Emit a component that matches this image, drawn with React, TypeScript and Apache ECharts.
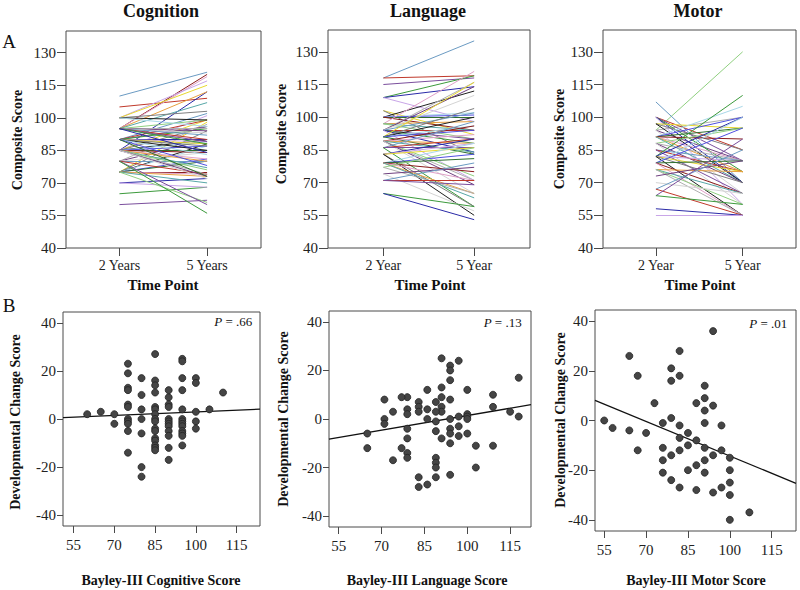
import React, { useEffect, useRef } from "react";
import * as echarts from "echarts";

const FONT = "'Liberation Serif', 'Times New Roman', serif";

// [2-year composite score, developmental change score (5-year minus 2-year)]
const cognitionData: [number, number][] = [
  [110, 11], [105, 4], [60, 2], [65, 3], [70, 2], [70, -2],
  [75, 23], [75, 19], [75, 13], [75, 12], [75, 6], [75, 5], [75, 0], [75, -1], [75, -2], [75, -5], [75, -14],
  [80, 17], [80, 10], [80, 4], [80, 0], [80, -6], [80, -20], [80, -24],
  [85, 27], [85, 16], [85, 14], [85, 11], [85, 5], [85, 4], [85, 2], [85, 0], [85, -1], [85, -4], [85, -5], [85, -8], [85, -9], [85, -11], [85, -12], [85, -13],
  [90, 12], [90, 9], [90, 6], [90, 5], [90, 0], [90, -1], [90, -2], [90, -3], [90, -5], [90, -7], [90, -12], [90, -17],
  [95, 25], [95, 24], [95, 17], [95, 12], [95, 4], [95, 0], [95, -1], [95, -2], [95, -3], [95, -5], [95, -6], [95, -7], [95, -11],
  [100, 17], [100, 15], [100, 3], [100, -1], [100, -4],
];

const languageData: [number, number][] = [
  [118, 17], [118, 1], [115, 3], [109, 10], [109, 5], [109, -11], [103, -11], [103, -20],
  [100, 12], [100, 2], [100, 1], [100, 0], [100, -6],
  [97, 24], [97, 1], [97, -3], [97, -7],
  [94, 22], [94, 20], [94, 16], [94, 8], [94, 0], [94, -4], [94, -6], [94, -10], [94, -23],
  [91, 25], [91, 13], [91, 9], [91, 5], [91, 3], [91, -8],
  [89, 7], [89, 3], [89, -1], [89, -5], [89, -16], [89, -18], [89, -20], [89, -24],
  [86, 12], [86, 4], [86, 0], [86, -27],
  [83, 7], [83, 5], [83, 3], [83, -24], [83, -28],
  [79, 9], [79, 4], [79, 2], [79, -4], [79, -8], [79, -14], [79, -16],
  [77, 9], [77, -12], [74, 3], [74, -17], [71, 8], [71, 0], [71, -2], [65, -6], [65, -12],
];

const motorData: [number, number][] = [
  [94, 36], [94, 6], [94, -14], [94, -29], [107, -37],
  [100, -15], [100, -20], [100, -25], [100, -30], [100, -40],
  [97, -2], [97, -12], [97, -27],
  [91, 14], [91, 9], [91, 4], [91, -1], [91, -11], [91, -16], [91, -21],
  [88, 7], [88, -8], [88, -18], [88, -28],
  [85, -5], [85, -10], [85, -20],
  [82, 28], [82, 18], [82, -2], [82, -7], [82, -12], [82, -27],
  [79, 21], [79, 16], [79, 1], [79, -14], [79, -24],
  [76, -1], [76, -11], [76, -16], [76, -21],
  [73, 7], [70, -5], [67, 18], [67, -12], [64, 26], [64, -4], [58, -3], [55, 0],
];

// regression line end points [score, change]
const cognitionFit: [number, number][] = [[51.1, 0.6], [123.6, 4.1]];
const languageFit: [number, number][] = [[51.6, -8.3], [122.3, 5.9]];
const motorFit: [number, number][] = [[51.7, 8.1], [123.7, -25.3]];

const panelTitles = ["Cognition", "Language", "Motor"];
const timeLabels = [["2 Years", "5 Years"], ["2 Year", "5 Year"], ["2 Year", "5 Year"]];
const bayleyNames = ["Bayley-III Cognitive Score", "Bayley-III Language Score", "Bayley-III Motor Score"];
const pLabels = [".66", ".13", ".01"];
const compositeTicks = [40, 55, 70, 85, 100, 115, 130];
const scoreTicks = [55, 70, 85, 100, 115];
const changeTicks = [-40, -20, 0, 20, 40];

const palette = [
  "#6b9bc3", "#c0392b", "#7b4f9d", "#3c9a3c", "#2a2aa8", "#c9a6e8", "#e8d830", "#808080",
  "#202020", "#a9d8e8", "#5050e0", "#2f6f2f", "#8b1c1c", "#e0a0c8", "#e8a040", "#58a8a8",
  "#90d080", "#b0b0b0", "#704080", "#d4d4d4",
];

const topGrids = [
  { left: 66, top: 31, width: 195, height: 217 },
  { left: 328, top: 30, width: 202, height: 218 },
  { left: 603, top: 30, width: 193, height: 218 },
];
const bottomGrids = [
  { left: 63, top: 312, width: 197, height: 214 },
  { left: 329, top: 311, width: 202, height: 216 },
  { left: 595, top: 310, width: 201, height: 221 },
];
const bottomXRange = [[51.1, 123.6], [51.6, 122.3], [51.7, 123.7]];

const AXIS_COLOR = "#4a4a4a";
const labelStyle = { fontFamily: FONT, fontSize: 15, color: "#222" };

function textEl(text: string, x: number, y: number, size: number, opts: any = {}) {
  return {
    type: "text",
    x,
    y,
    rotation: opts.rotation || 0,
    style: {
      text,
      fontFamily: FONT,
      fontSize: size,
      fontWeight: opts.weight || "normal",
      fill: "#111",
      align: opts.align || "center",
      verticalAlign: "middle",
      textAlign: opts.align || "center",
      textVerticalAlign: "middle",
      rich: opts.rich,
    },
  };
}

export default function App() {
  const ref = useRef<HTMLDivElement>(null);

  useEffect(() => {
    if (!ref.current) return;
    const chart = echarts.init(ref.current, null, { renderer: "svg" });
    const datasets = [cognitionData, languageData, motorData];
    const fits = [cognitionFit, languageFit, motorFit];
    const offsets = [0, 0, 16];

    const grid: any[] = [];
    const xAxis: any[] = [];
    const yAxis: any[] = [];
    const series: any[] = [];

    topGrids.forEach((g, i) => {
      grid.push({ ...g, show: true, borderColor: AXIS_COLOR, borderWidth: 1, containLabel: false });
      xAxis.push({
        type: "value", gridIndex: i, min: 0.39, max: 2.615, position: "bottom",
        axisLine: { show: false, onZero: false }, splitLine: { show: false },
        axisTick: { show: true, length: 8, lineStyle: { color: AXIS_COLOR }, customValues: [1, 2] },
        axisLabel: { ...labelStyle, fontSize: 14, margin: 10, customValues: [1, 2], formatter: (v: number) => (v === 1 ? timeLabels[i][0] : timeLabels[i][1]) },
      });
      yAxis.push({
        type: "value", gridIndex: i, min: 40, max: 140, position: "left",
        axisLine: { show: false, onZero: false }, splitLine: { show: false },
        axisTick: { show: true, length: 9, lineStyle: { color: AXIS_COLOR }, customValues: compositeTicks },
        axisLabel: { ...labelStyle, margin: 10, customValues: compositeTicks },
      });
      series.push({
        type: "lines",
        coordinateSystem: "cartesian2d",
        xAxisIndex: i,
        yAxisIndex: i,
        polyline: false,
        silent: true,
        lineStyle: { width: 1, opacity: 1 },
        data: datasets[i].map(([s, c], k) => ({
          coords: [[1, s], [2, s + c]],
          lineStyle: { color: palette[(k + offsets[i]) % palette.length], width: 1, opacity: 1 },
        })),
      });
    });

    bottomGrids.forEach((g, j) => {
      const i = j + 3;
      grid.push({ ...g, show: true, borderColor: AXIS_COLOR, borderWidth: 1, containLabel: false });
      xAxis.push({
        type: "value", gridIndex: i, min: bottomXRange[j][0], max: bottomXRange[j][1], position: "bottom",
        axisLine: { show: false, onZero: false }, splitLine: { show: false },
        axisTick: { show: true, length: 7, lineStyle: { color: AXIS_COLOR }, customValues: scoreTicks },
        axisLabel: { ...labelStyle, margin: 11, customValues: scoreTicks },
      });
      yAxis.push({
        type: "value", gridIndex: i, min: -44.5, max: 44.5, position: "left",
        axisLine: { show: false, onZero: false }, splitLine: { show: false },
        axisTick: { show: true, length: 6, lineStyle: { color: AXIS_COLOR }, customValues: changeTicks },
        axisLabel: { ...labelStyle, margin: 7, customValues: changeTicks },
      });
      series.push({
        type: "line",
        xAxisIndex: i,
        yAxisIndex: i,
        data: fits[j],
        symbol: "none",
        silent: true,
        lineStyle: { color: "#111", width: 1.3 },
        z: 3,
      });
      series.push({
        type: "scatter",
        xAxisIndex: i,
        yAxisIndex: i,
        data: datasets[j].map(([s, c]) => [s, c]),
        symbolSize: 7,
        itemStyle: { color: "#454545", borderColor: "#222", borderWidth: 0.8, opacity: 1 },
        z: 4,
      });
    });

    const graphics: any[] = [
      textEl("A", 9, 41, 19),
      textEl("B", 9, 305, 19),
      textEl(panelTitles[0], 161, 11, 18, { weight: "bold" }),
      textEl(panelTitles[1], 428, 11, 18, { weight: "bold" }),
      textEl(panelTitles[2], 698, 11, 18, { weight: "bold" }),
    ];
    const compX = [17.5, 281, 559.5];
    const compY = [140, 134, 139];
    const timeX = [163, 430, 700];
    const devX = [15.7, 283, 560.7];
    const devY = [422, 419, 420];
    const bayX = [161, 427, 696];
    const pX = [252.3, 521.7, 787.3];
    const pY = [321.7, 322, 323];
    for (let k = 0; k < 3; k++) {
      graphics.push(textEl("Composite Score", compX[k], compY[k], 14, { weight: "bold", rotation: Math.PI / 2 }));
      graphics.push(textEl("Time Point", timeX[k], 284.5, 15, { weight: "bold" }));
      graphics.push(textEl("Developmental Change Score", devX[k], devY[k], 14, { weight: "bold", rotation: Math.PI / 2 }));
      graphics.push(textEl(bayleyNames[k], bayX[k], 580, 14, { weight: "bold" }));
      graphics.push(
        textEl("{i|P} = " + pLabels[k], pX[k], pY[k], 13, {
          align: "right",
          rich: { i: { fontStyle: "italic", fontFamily: FONT, fontSize: 13, fill: "#111" } },
        })
      );
    }

    chart.setOption({
      animation: false,
      backgroundColor: "#ffffff",
      grid,
      xAxis,
      yAxis,
      series,
      graphic: { elements: graphics },
    });

    return () => chart.dispose();
  }, []);

  return (
    <div
      ref={ref}
      style={{ position: "fixed", left: 0, top: 0, width: 800, height: 590, background: "#fff" }}
    />
  );
}
